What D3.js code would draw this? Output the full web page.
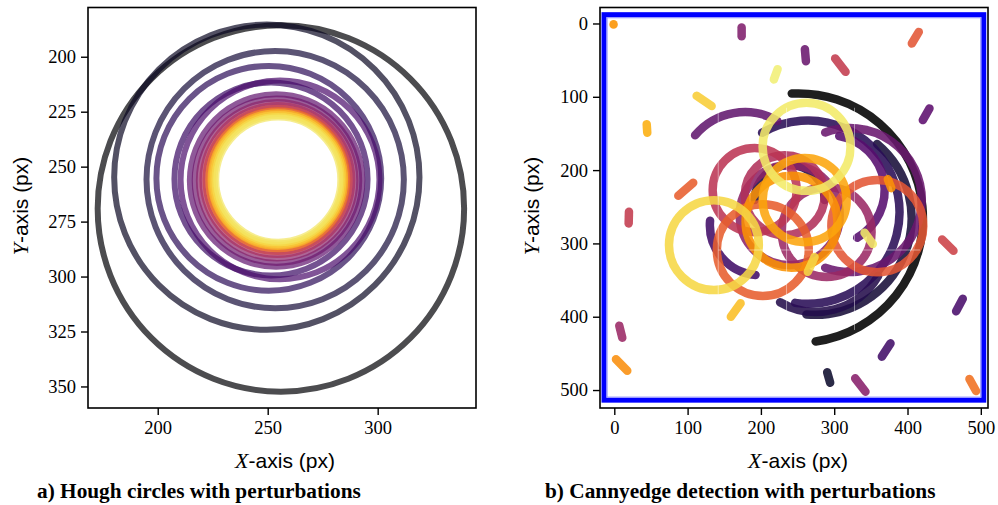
<!DOCTYPE html>
<html>
<head>
<meta charset="utf-8">
<script src="https://cdn.jsdelivr.net/npm/d3@7"></script>
<style>
  body { margin: 0; background: #fff; }
  svg { display: block; }
  .tick text { font-family: "Liberation Serif", serif; font-size: 18.5px; fill: #000; }
  .tick line { stroke: #000; stroke-width: 1.4; }
  .lab { font-family: "Liberation Sans", sans-serif; font-size: 21px; fill: #000; }
  .lab .m { font-family: "Liberation Serif", serif; font-style: italic; font-size: 22px; }
  .cap { font-family: "Liberation Serif", serif; font-weight: bold; font-size: 21.3px; fill: #000; }
</style>
</head>
<body>
<svg id="chart" width="998" height="505"></svg>
<script>
// a) hough circles, image px units, t = inferno colour position
var houghCx = [256.0, 249.6, 253.4, 250.5, 251.5, 255.6, 253.8, 254.2, 254.3, 254.4, 254.5, 254.6, 254.6, 254.7, 254.8, 254.8];
var houghCy = [269.0, 254.8, 255.9, 255.3, 255.6, 256.0, 256.3, 256.4, 256.2, 256.1, 256.0, 256.0, 255.9, 255.9, 255.9, 255.9];
var houghR  = [83.3, 69.4, 58.5, 51.1, 43.9, 45.2, 39.2, 37.4, 35.6, 34.1, 32.8, 31.6, 30.6, 29.7, 28.9, 28.2];
var houghT  = [0.0, 0.06, 0.1, 0.15, 0.18, 0.22, 0.27, 0.31, 0.38, 0.46, 0.54, 0.68, 0.84, 0.88, 0.91, 0.93];

// b) canny edges: arcs (angles in degrees, clockwise from +x) and short strokes
var arcCx = [251.0, 273.6, 264.1, 275.1, 198.6, 239.3, 293.8, 178.1, 321.3, 239.3, 289.7, 232.5, 191.5, 358.8, 202.6, 241.8, 259.7, 135.9, 262.3];
var arcCy = [265.4, 265.4, 257.3, 295.4, 275.0, 240.9, 227.3, 209.5, 240.9, 261.4, 284.5, 234.2, 227.3, 276.4, 309.1, 270.5, 240.9, 302.3, 168.2];
var arcR  = [170, 132, 125, 98, 68.2, 47.7, 75, 88.6, 98.2, 68.2, 61.3, 54.5, 57.3, 62.7, 62.7, 62.7, 57.3, 61.3, 60];
var arcA0 = [-93, -50, -120, 30, 95, 180, -80, -140, -110, 0, 0, 0, 0, 0, 0, 0, 0, 0, 0];
var arcA1 = [82, 95, 98, 120, 185, 360, 60, -60, 110, 360, 360, 360, 360, 360, 360, 360, 360, 360, 360];
var arcT  = [0.0, 0.1, 0.15, 0.13, 0.2, 0.12, 0.25, 0.28, 0.3, 0.38, 0.42, 0.47, 0.5, 0.62, 0.64, 0.76, 0.8, 0.9, 0.94];

var dashX1 = [-1, 173.7, 222.8, 112.3, 44.2, 107.7, 20.0, 6.8, 2.3, 172.3, 260.0, 301.3, 415.4, 430.0, 447.2, 475.4, 376.8, 290.4, 328.6, 484.5, 341.4, 273.2, 373.1];
var dashY1 = [1, 5.5, 62.3, 98.7, 137.3, 217.3, 256.8, 412.3, 458.0, 381.7, 35.0, 47.7, 11.5, 115.9, 294.5, 375.5, 436.3, 475.8, 484.0, 485.0, 285.5, 318.6, 212.3];
var dashX2 = [-1, 173.7, 217.7, 132.8, 45.0, 87.3, 19.6, 10.9, 17.7, 159.0, 261.4, 315.5, 405.9, 420.9, 462.7, 466.3, 365.0, 294.5, 342.7, 493.5, 352.7, 264.0, 377.9];
var dashY2 = [1.5, 17.4, 76.4, 112.7, 149.1, 235.0, 272.7, 428.6, 473.6, 400.0, 51.4, 66.0, 27.3, 131.8, 310.0, 392.6, 454.5, 490.0, 502.3, 501.3, 300.9, 338.7, 224.6];
var dashT  = [0.76, 0.35, 0.95, 0.88, 0.82, 0.64, 0.52, 0.42, 0.75, 0.85, 0.3, 0.52, 0.62, 0.27, 0.55, 0.22, 0.2, 0.08, 0.37, 0.68, 0.94, 0.9, 0.76];

var seamX = [141.8, 235.0, 327.7];
var seamY = [309.0];
var frameX = [-14, 504];
var frameY = [-12, 513.8];

var leftXTicks = [200, 250, 300];
var leftYTicks = [200, 225, 250, 275, 300, 325, 350];
var rightTicks = [0, 100, 200, 300, 400, 500];

var svg = d3.select("#chart");
var defs = svg.append("defs");
defs.append("filter").attr("id", "soft")
  .attr("x", "-5%").attr("y", "-5%").attr("width", "110%").attr("height", "110%")
  .append("feGaussianBlur").attr("stdDeviation", 0.7);

var lx = d3.scaleLinear().domain([168.3, 344.7]).range([88, 476]);
var ly = d3.scaleLinear().domain([177.6, 359.8]).range([7.5, 408]);
var rx = d3.scaleLinear().domain([-19.5, 509.8]).range([600, 988]);
var ry = d3.scaleLinear().domain([-21.8, 524.5]).range([7.5, 408]);

defs.append("clipPath").attr("id", "clipL").append("rect")
  .attr("x", 88).attr("y", 7.5).attr("width", 388).attr("height", 400.5);

// ---- left panel
var gl = svg.append("g").attr("clip-path", "url(#clipL)");
gl.selectAll("circle").data(d3.range(houghR.length)).join("circle")
  .attr("cx", i => lx(houghCx[i]))
  .attr("cy", i => ly(houghCy[i]))
  .attr("r", i => lx(houghCx[i] + houghR[i]) - lx(houghCx[i]))
  .attr("fill", "none")
  .attr("stroke", i => d3.interpolateInferno(houghT[i]))
  .attr("stroke-opacity", 0.7)
  .attr("stroke-width", 6);

// ---- right panel
var gr = svg.append("g");
gr.append("rect")
  .attr("x", rx(frameX[0])).attr("y", ry(frameY[0]))
  .attr("width", rx(frameX[1]) - rx(frameX[0]))
  .attr("height", ry(frameY[1]) - ry(frameY[0]))
  .attr("fill", "#fff").attr("stroke", "#0000ff").attr("stroke-width", 5);
gr.append("rect")
  .attr("x", rx(frameX[0]) + 3).attr("y", ry(frameY[0]) + 3)
  .attr("width", rx(frameX[1]) - rx(frameX[0]) - 6)
  .attr("height", ry(frameY[1]) - ry(frameY[0]) - 6)
  .attr("fill", "none").attr("stroke", "#9999ff").attr("stroke-width", 1.2);

var marks = gr.append("g").attr("filter", "url(#soft)");
var arcIdx = d3.range(arcR.length).sort((a, b) => arcT[a] - arcT[b]);
marks.selectAll("path.arc").data(arcIdx).join("path")
  .attr("class", "arc")
  .attr("d", i => {
    var p = d3.path();
    var cx = rx(arcCx[i]), cy = ry(arcCy[i]);
    var r = rx(arcCx[i] + arcR[i]) - cx;
    var a0 = arcA0[i] * Math.PI / 180, a1 = arcA1[i] * Math.PI / 180;
    p.moveTo(cx + r * Math.cos(a0), cy + r * Math.sin(a0));
    p.arc(cx, cy, r, a0, a1);
    return p.toString();
  })
  .attr("fill", "none")
  .attr("stroke", i => d3.interpolateInferno(arcT[i]))
  .attr("stroke-opacity", 0.88)
  .attr("stroke-width", 8.5)
  .attr("stroke-linecap", "round");

marks.selectAll("line.dash").data(d3.range(dashT.length)).join("line")
  .attr("class", "dash")
  .attr("x1", i => rx(dashX1[i])).attr("y1", i => ry(dashY1[i]))
  .attr("x2", i => rx(dashX2[i])).attr("y2", i => ry(dashY2[i]))
  .attr("stroke", i => d3.interpolateInferno(dashT[i]))
  .attr("stroke-opacity", 0.88)
  .attr("stroke-width", 8.5)
  .attr("stroke-linecap", "round");

// faint tile seams in the edge image
gr.selectAll("line.sx").data(seamX).join("line").attr("class", "sx")
  .attr("x1", d => rx(d)).attr("x2", d => rx(d))
  .attr("y1", ry(115)).attr("y2", ry(418))
  .attr("stroke", "#fff").attr("stroke-opacity", 0.45).attr("stroke-width", 1);
gr.selectAll("line.sy").data(seamY).join("line").attr("class", "sy")
  .attr("y1", d => ry(d)).attr("y2", d => ry(d))
  .attr("x1", rx(141.8)).attr("x2", rx(417))
  .attr("stroke", "#fff").attr("stroke-opacity", 0.45).attr("stroke-width", 1);

// ---- axes
function axes(x, y, xt, yt) {
  var g = svg.append("g");
  g.append("g").attr("transform", "translate(0," + y.range()[1] + ")")
    .call(d3.axisBottom(x).tickValues(xt).tickSize(7).tickPadding(6).tickFormat(d3.format("d")))
    .call(a => a.select(".domain").remove());
  g.append("g").attr("transform", "translate(" + x.range()[0] + ",0)")
    .call(d3.axisLeft(y).tickValues(yt).tickSize(7).tickPadding(5).tickFormat(d3.format("d")))
    .call(a => a.select(".domain").remove());
  g.selectAll(".tick text").attr("font-family", null).attr("font-size", null);
  g.append("rect")
    .attr("x", x.range()[0]).attr("y", y.range()[0])
    .attr("width", x.range()[1] - x.range()[0])
    .attr("height", y.range()[1] - y.range()[0])
    .attr("fill", "none").attr("stroke", "#000").attr("stroke-width", 1.6);
}
axes(lx, ly, leftXTicks, leftYTicks);
axes(rx, ry, rightTicks, rightTicks);

function axisLabel(x, y, letter, rotate) {
  var t = svg.append("text").attr("class", "lab")
    .attr("text-anchor", "middle")
    .attr("transform", "translate(" + x + "," + y + ")" + (rotate ? " rotate(-90)" : ""));
  t.append("tspan").attr("class", "m").text(letter);
  t.append("tspan").text("-axis (px)");
}
axisLabel(285, 468, "X", false);
axisLabel(798, 468, "X", false);
axisLabel(28, 206, "Y", true);
axisLabel(539, 206, "Y", true);

svg.append("text").attr("class", "cap").attr("x", 37).attr("y", 498)
  .text("a) Hough circles with perturbations");
svg.append("text").attr("class", "cap").attr("x", 545).attr("y", 498)
  .text("b) Cannyedge detection with perturbations");
</script>
</body>
</html>
